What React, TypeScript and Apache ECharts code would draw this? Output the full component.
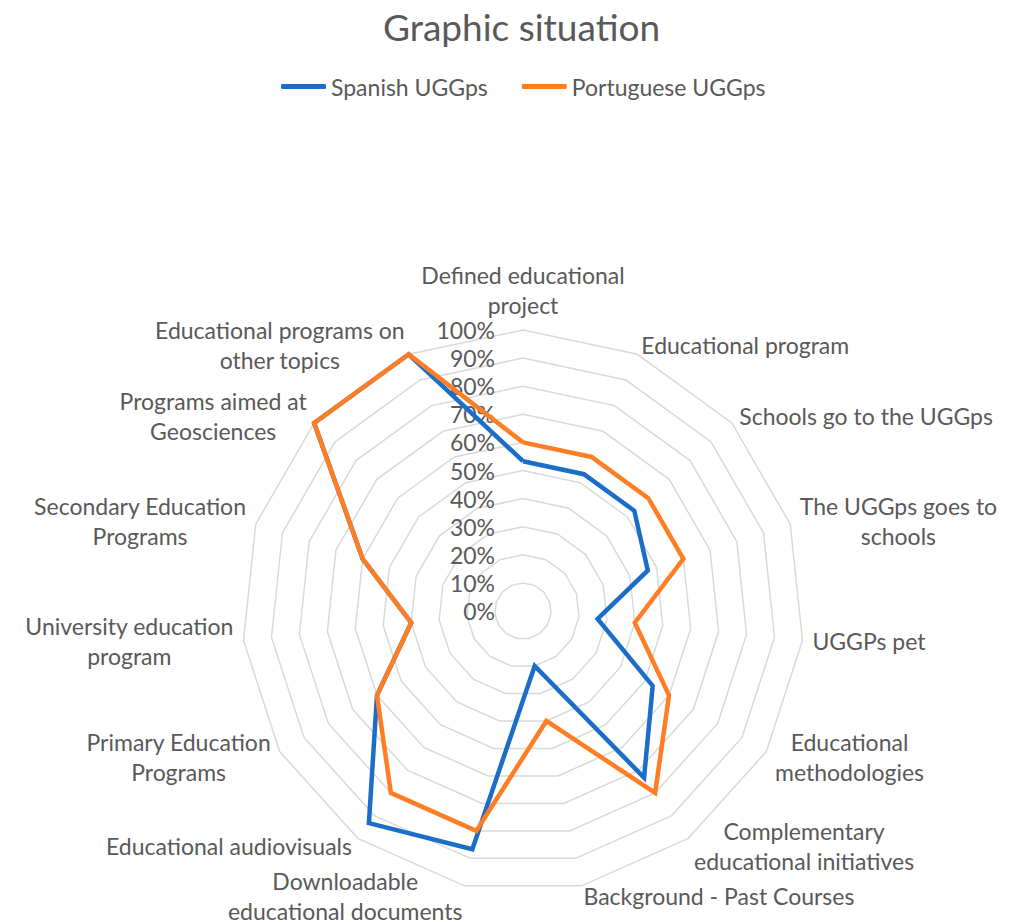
import React, { useEffect, useRef } from 'react';
import * as echarts from 'echarts';

const TITLE = 'Graphic situation';
const SERIES_NAMES = ['Spanish UGGps', 'Portuguese UGGps'];

// Categories clockwise from the top
const categories = [
  'Defined educational\nproject',
  'Educational program',
  'Schools go to the UGGps',
  'The UGGps goes to\nschools',
  'UGGPs pet',
  'Educational\nmethodologies',
  'Complementary\neducational initiatives',
  'Background - Past Courses',
  'Downloadable\neducational documents',
  'Educational audiovisuals',
  'Primary Education\nPrograms',
  'University education\nprogram',
  'Secondary Education\nPrograms',
  'Programs aimed at\nGeosciences',
  'Educational programs on\nother topics',
];

const spanish = [53.3, 53.3, 53.3, 46.7, 26.7, 53.3, 73.3, 20, 86.7, 93.3, 60, 40, 60, 100, 100];
const portuguese = [60, 60, 60, 60, 40, 60, 80, 40, 80, 80, 60, 40, 60, 100, 100];

const AXIS_MIN = 0;
const AXIS_MAX = 100;
const AXIS_SPLITS = 10;

const BLUE = '#1a6ec8';
const ORANGE = '#ff7d23';
const TEXT = '#595959';
const GRID = '#d9d9d9';
const FONT = 'Lato, "Open Sans", sans-serif';

// ECharts radar lays indicators out counter-clockwise; reorder to get clockwise
function clockwise<T>(arr: T[]): T[] {
  return [arr[0], ...arr.slice(1).reverse()];
}

export default function App() {
  const ref = useRef<HTMLDivElement | null>(null);

  useEffect(() => {
    if (!ref.current) return;
    const chart = echarts.init(ref.current, undefined, { renderer: 'svg' });
    const center = [523, 611];
    const radius = 281;

    const option: any = {
      animation: false,
      backgroundColor: '#ffffff',
      title: {
        text: TITLE,
        left: 378,
        top: 3,
        textStyle: { fontFamily: FONT, fontSize: 37, fontWeight: 'normal', color: TEXT },
      },
      legend: {
        data: SERIES_NAMES,
        left: 276,
        top: 70,
        itemWidth: 45,
        itemHeight: 5,
        itemGap: 34,
        icon: 'roundRect',
        textStyle: { fontFamily: FONT, fontSize: 23, color: TEXT },
      },
      radar: [
        {
          center,
          radius,
          startAngle: 90,
          splitNumber: AXIS_SPLITS,
          shape: 'polygon',
          nameGap: 10,
          indicator: clockwise(categories).map((name) => ({ name, min: AXIS_MIN, max: AXIS_MAX })),
          axisName: {
            color: TEXT,
            fontFamily: FONT,
            fontSize: 23,
            lineHeight: 30,
            formatter: (value: string) =>
              value
                .split('\n')
                .map((l) => `{c|${l}}`)
                .join('\n'),
            rich: {
              c: { align: 'center', color: TEXT, fontFamily: FONT, fontSize: 23, lineHeight: 30 },
            },
          },
          axisLine: { show: false },
          axisTick: { show: false },
          axisLabel: { show: false },
          splitArea: { show: false },
          splitLine: { show: true, lineStyle: { color: GRID, width: 1.5 } },
        },
        {
          center,
          radius,
          startAngle: 90,
          splitNumber: AXIS_SPLITS,
          shape: 'polygon',
          indicator: [{ name: '', min: AXIS_MIN, max: AXIS_MAX }],
          axisName: { show: false },
          axisLine: { show: false },
          axisTick: { show: false },
          splitArea: { show: false },
          splitLine: { show: false },
          axisLabel: {
            show: true,
            formatter: '{value}%',
            margin: 28,
            color: TEXT,
            fontFamily: FONT,
            fontSize: 23,
          },
        },
      ],
      series: [
        {
          type: 'radar',
          name: SERIES_NAMES[0],
          radarIndex: 0,
          symbol: 'none',
          z: 2,
          lineStyle: { color: BLUE, width: 4.5, join: 'miter' },
          itemStyle: { color: BLUE },
          data: [
            {
              name: SERIES_NAMES[0],
              value: clockwise(spanish),
              lineStyle: { color: BLUE, width: 4.5, join: 'miter' },
              itemStyle: { color: BLUE },
            },
          ],
        },
        {
          type: 'radar',
          name: SERIES_NAMES[1],
          radarIndex: 0,
          symbol: 'none',
          z: 3,
          lineStyle: { color: ORANGE, width: 4.5, join: 'miter' },
          itemStyle: { color: ORANGE },
          data: [
            {
              name: SERIES_NAMES[1],
              value: clockwise(portuguese),
              lineStyle: { color: ORANGE, width: 4.5, join: 'miter' },
              itemStyle: { color: ORANGE },
            },
          ],
        },
      ],
    };

    chart.setOption(option);
    return () => {
      chart.dispose();
    };
  }, []);

  return (
    <div
      ref={ref}
      style={{ position: 'absolute', left: 0, top: 0, width: 1011, height: 922 }}
    />
  );
}
